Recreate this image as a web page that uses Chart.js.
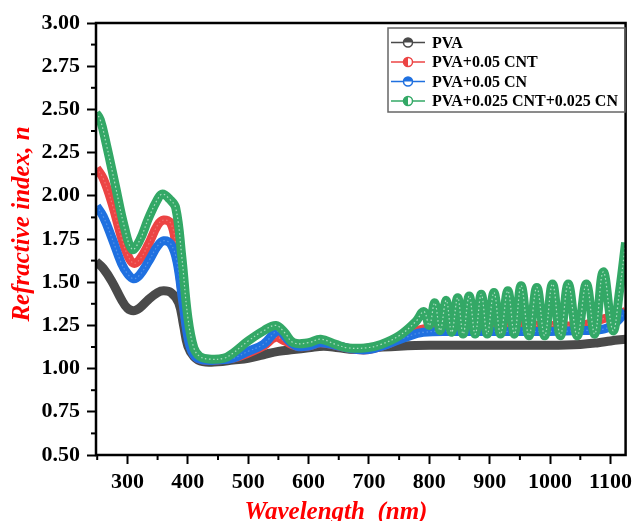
<!DOCTYPE html>
<html>
<head>
<meta charset="utf-8">
<script src="https://cdn.jsdelivr.net/npm/chart.js@4.4.0/dist/chart.umd.min.js"></script>
<style>
  body { margin: 0; background: #fff; }
  canvas { display: block; }
</style>
</head>
<body>
<canvas id="myChart" width="637" height="521"></canvas>
<script>
// values
const seriesNames = ['PVA', 'PVA+0.05 CNT', 'PVA+0.05 CN', 'PVA+0.025 CNT+0.025 CN'];

const wlPVA = [248, 260, 275, 290, 300, 310, 320, 335, 350, 360, 372, 385, 393, 400, 410, 425, 450, 475, 500, 525, 550, 575, 600, 625, 650, 675, 700, 750, 800, 900, 1000, 1050, 1080, 1100, 1125];
const nPVA  = [1.62, 1.58, 1.50, 1.40, 1.35, 1.335, 1.35, 1.40, 1.44, 1.45, 1.44, 1.38, 1.25, 1.13, 1.07, 1.04, 1.04, 1.05, 1.06, 1.08, 1.10, 1.11, 1.12, 1.13, 1.12, 1.11, 1.12, 1.13, 1.135, 1.135, 1.135, 1.14, 1.15, 1.16, 1.17];

const wlCNT = [249, 260, 275, 290, 300, 310, 320, 335, 350, 360, 372, 380, 390, 400, 410, 425, 450, 475, 500, 525, 545, 560, 580, 600, 620, 650, 680, 700, 730, 760, 790, 850, 900, 950, 1000, 1050, 1090, 1110, 1125];
const nCNT  = [2.16, 2.10, 1.95, 1.76, 1.66, 1.61, 1.63, 1.72, 1.83, 1.86, 1.84, 1.72, 1.45, 1.20, 1.08, 1.05, 1.05, 1.06, 1.09, 1.13, 1.18, 1.16, 1.13, 1.13, 1.15, 1.13, 1.11, 1.11, 1.14, 1.19, 1.23, 1.24, 1.245, 1.25, 1.25, 1.25, 1.29, 1.31, 1.33];

const wlCN = [249, 260, 275, 290, 300, 310, 320, 335, 350, 360, 372, 382, 392, 402, 412, 425, 450, 475, 500, 525, 550, 565, 580, 600, 620, 650, 680, 700, 730, 760, 790, 850, 900, 950, 1000, 1050, 1090, 1110, 1125];
const nCN  = [1.94, 1.88, 1.75, 1.61, 1.55, 1.52, 1.54, 1.62, 1.71, 1.74, 1.72, 1.62, 1.38, 1.15, 1.07, 1.05, 1.05, 1.06, 1.10, 1.14, 1.22, 1.17, 1.13, 1.13, 1.15, 1.13, 1.11, 1.11, 1.14, 1.18, 1.21, 1.215, 1.215, 1.215, 1.215, 1.22, 1.23, 1.27, 1.33];

const wlMix = [248, 255, 265, 280, 295, 308, 320, 335, 350, 358, 370, 380, 390, 400, 410, 420, 435, 460, 475, 500, 526, 546, 560, 575, 600, 620, 645, 665, 695, 720, 750, 777,
  791, 800, 809, 818, 828, 837, 847, 856, 866, 876, 886, 896, 907, 918, 930, 941, 952, 965, 978, 991, 1004, 1017, 1030, 1045, 1060, 1074, 1088, 1104, 1115, 1125];
const nMix  = [2.48, 2.44, 2.30, 2.06, 1.82, 1.69, 1.74, 1.87, 1.98, 2.01, 1.98, 1.93, 1.65, 1.30, 1.12, 1.07, 1.055, 1.06, 1.09, 1.16, 1.22, 1.25, 1.21, 1.15, 1.15, 1.17, 1.14, 1.12, 1.12, 1.14, 1.19, 1.27,
  1.33, 1.25, 1.38, 1.22, 1.395, 1.21, 1.41, 1.20, 1.42, 1.20, 1.43, 1.20, 1.44, 1.20, 1.45, 1.20, 1.48, 1.19, 1.47, 1.19, 1.49, 1.19, 1.49, 1.19, 1.49, 1.20, 1.56, 1.22, 1.45, 1.73];

const xTicks = [300, 400, 500, 600, 700, 800, 900, 1000, 1100];
const yTicks = [0.50, 0.75, 1.00, 1.25, 1.50, 1.75, 2.00, 2.25, 2.50, 2.75, 3.00];

const colors = ['#4a4a4a', '#ec4444', '#1f70e0', '#33a866'];
const serif = '"Liberation Serif", "Times New Roman", serif';

function pts(xs, ys) {
  return xs.map((x, i) => ({ x: x, y: ys[i] }));
}

function band(data, color, order) {
  return { data: data, borderColor: color, borderWidth: 9, pointRadius: 0,
    tension: 0.4, order: order };
}
function speckle(data, alpha, order) {
  return { data: data, borderColor: 'rgba(255,255,255,' + alpha + ')', borderWidth: 1.2,
    borderDash: [1.5, 2.5], pointRadius: 0, tension: 0.4, order: order };
}

const dPVA = pts(wlPVA, nPVA), dCNT = pts(wlCNT, nCNT), dCN = pts(wlCN, nCN), dMix = pts(wlMix, nMix);

const framePlugin = {
  id: 'frame',
  afterDraw(chart) {
    const ctx = chart.ctx, a = chart.chartArea, xs = chart.scales.x, ys = chart.scales.y;
    ctx.save();
    ctx.strokeStyle = '#000';
    ctx.lineWidth = 2;
    // minor ticks
    for (let i = 0; i < yTicks.length - 1; i++) {
      const y = ys.getPixelForValue((yTicks[i] + yTicks[i + 1]) / 2);
      ctx.beginPath(); ctx.moveTo(a.left - 5, y); ctx.lineTo(a.left, y); ctx.stroke();
    }
    for (let v = 250; v <= 1125; v += 50) {
      if (v % 100 === 0) continue;
      const x = xs.getPixelForValue(v);
      ctx.beginPath(); ctx.moveTo(x, a.bottom); ctx.lineTo(x, a.bottom + 5); ctx.stroke();
    }
    ctx.lineWidth = 2.5;
    ctx.strokeRect(a.left, a.top, a.right - a.left, a.bottom - a.top);

    // axis titles
    ctx.fillStyle = '#ff0000';
    ctx.font = 'italic bold 25px ' + serif;
    ctx.textAlign = 'center';
    ctx.textBaseline = 'alphabetic';
    ctx.fillText('Wavelength  (nm)', 336, 519);
    ctx.save();
    ctx.translate(29, 224);
    ctx.rotate(-Math.PI / 2);
    ctx.fillText('Refractive index, n', 0, 0);
    ctx.restore();

    // legend
    ctx.strokeStyle = '#666';
    ctx.lineWidth = 1.5;
    ctx.strokeRect(388, 28, 237, 84);
    const rows = [42.5, 62, 81.5, 101];
    ctx.font = 'bold 16px ' + serif;
    ctx.textAlign = 'left';
    ctx.textBaseline = 'middle';
    seriesNames.forEach((name, i) => {
      const y = rows[i];
      ctx.strokeStyle = colors[i];
      ctx.lineWidth = 1.5;
      ctx.beginPath(); ctx.moveTo(391, y); ctx.lineTo(425, y); ctx.stroke();
      ctx.fillStyle = '#fff';
      ctx.beginPath(); ctx.arc(408, y, 4.5, 0, Math.PI * 2); ctx.fill();
      ctx.fillStyle = colors[i];
      ctx.beginPath();
      if (i % 2 === 0) ctx.arc(408, y, 4.5, Math.PI, 0);
      else ctx.arc(408, y, 4.5, -Math.PI / 2, Math.PI / 2, true);
      ctx.fill();
      ctx.beginPath(); ctx.arc(408, y, 4.5, 0, Math.PI * 2); ctx.stroke();
      ctx.fillStyle = '#000';
      ctx.fillText(name, 432, y + 1);
    });
    ctx.restore();
  }
};

new Chart(document.getElementById('myChart').getContext('2d'), {
  type: 'line',
  data: {
    datasets: [
      band(dPVA, colors[0], 7),
      band(dCNT, colors[1], 5), speckle(dCNT, 0.25, 4),
      band(dCN, colors[2], 3), speckle(dCN, 0.25, 2),
      band(dMix, colors[3], 1), speckle(dMix, 0.6, 0)
    ]
  },
  options: {
    responsive: false,
    devicePixelRatio: 1,
    animation: false,
    layout: { padding: { left: 0, right: 4, top: 23, bottom: 0 } },
    plugins: { legend: { display: false }, tooltip: { enabled: false } },
    scales: {
      x: {
        type: 'linear',
        min: 248,
        max: 1125,
        afterBuildTicks: s => { s.ticks = xTicks.map(v => ({ value: v })); },
        afterFit: s => { s.height = 66; },
        border: { display: false },
        grid: { drawOnChartArea: false, tickLength: 9, tickWidth: 2, tickColor: '#000' },
        ticks: { color: '#000', padding: 5, maxRotation: 0, callback: v => String(v), font: { family: serif, size: 22, weight: 'bold' } }
      },
      y: {
        min: 0.5,
        max: 3.0,
        afterBuildTicks: s => { s.ticks = yTicks.map(v => ({ value: v })); },
        afterFit: s => { s.width = 96; },
        border: { display: false },
        grid: { drawOnChartArea: false, tickLength: 9, tickWidth: 2, tickColor: '#000' },
        ticks: { color: '#000', padding: 7, callback: v => v.toFixed(2), font: { family: serif, size: 22, weight: 'bold' } }
      }
    }
  },
  plugins: [framePlugin]
});
</script>
</body>
</html>
